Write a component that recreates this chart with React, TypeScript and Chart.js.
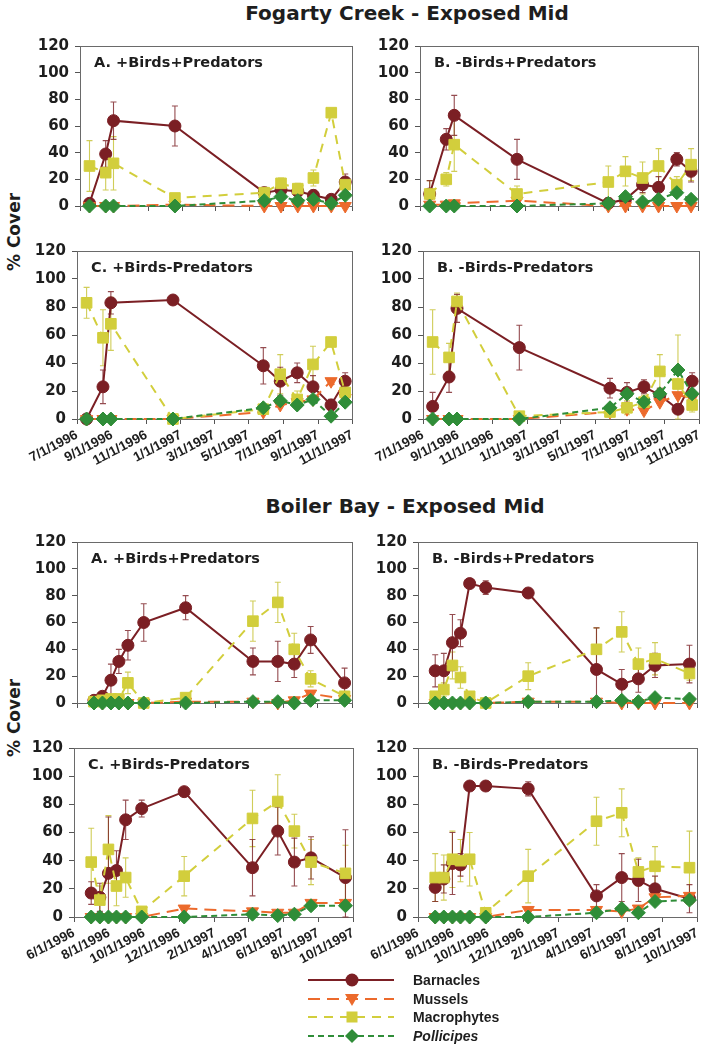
import React, { useEffect, useRef } from 'react';
import { Chart, registerables } from 'chart.js';
Chart.register(...registerables);

// ---------- tick labels & sampling dates ----------
const fogartyTickLabels = ['7/1/1996', '9/1/1996', '11/1/1996', '1/1/1997', '3/1/1997', '5/1/1997', '7/1/1997', '9/1/1997', '11/1/1997'];
const fogartyDates = ['7/18/1996', '8/16/1996', '8/30/1996', '12/18/1996', '5/27/1997', '6/26/1997', '7/26/1997', '8/23/1997', '9/24/1997', '10/19/1997'];
const boilerTickLabels = ['6/1/1996', '8/1/1996', '10/1/1996', '12/1/1996', '2/1/1997', '4/1/1997', '6/1/1997', '8/1/1997', '10/1/1997'];
const boilerDates = ['7/1/1996', '7/16/1996', '7/31/1996', '8/14/1996', '8/30/1996', '9/27/1996', '12/10/1996', '4/8/1997', '5/22/1997', '6/20/1997', '7/19/1997', '9/17/1997'];

// ---------- Fogarty Creek ----------
const fogA_barnacles = [2, 39, 64, 60, 10, 12, 11, 8, 5, 18];
const fogA_barnaclesErr = [2, 10, 14, 15, 4, 6, 5, 4, 3, 6];
const fogA_mussels = [0, 0, 0, 1, 0, 0, 0, 0, 0, 0];
const fogA_macrophytes = [30, 25, 32, 6, 10, 17, 13, 21, 70, 16];
const fogA_macrophytesErr = [19, 13, 20, 2, 3, 4, 4, 6, 2, 5];
const fogA_pollicipes = [0, 0, 0, 0, 4, 7, 4, 5, 2, 8];

const fogB_barnacles = [9, 50, 68, 35, 2, 5, 16, 14, 35, 26];
const fogB_barnaclesErr = [10, 8, 15, 15, 4, 4, 6, 8, 5, 8];
const fogB_mussels = [1, 1, 2, 4, 0, 0, 0, 0, 0, 0];
const fogB_macrophytes = [9, 20, 46, 9, 18, 26, 21, 30, 16, 31];
const fogB_macrophytesErr = [10, 5, 20, 6, 12, 11, 12, 13, 6, 12];
const fogB_pollicipes = [0, 0, 0, 0, 2, 7, 3, 5, 10, 5];

const fogC_barnacles = [0, 23, 83, 85, 38, 27, 33, 23, 10, 27];
const fogC_barnaclesErr = [0, 12, 8, 2, 13, 10, 7, 8, 4, 6];
const fogC_mussels = [0, 0, 0, 0, 5, 10, 12, 14, 27, 15];
const fogC_macrophytes = [83, 58, 68, 0, 7, 32, 14, 39, 55, 19];
const fogC_macrophytesErr = [11, 20, 19, 0, 3, 14, 6, 13, 3, 8];
const fogC_pollicipes = [0, 0, 0, 0, 8, 13, 10, 14, 2, 12];

const fogD_barnacles = [9, 30, 79, 51, 22, 19, 23, 17, 7, 27];
const fogD_barnaclesErr = [10, 11, 10, 16, 7, 7, 5, 5, 3, 6];
const fogD_mussels = [0, 0, 0, 0, 5, 7, 6, 12, 17, 15];
const fogD_macrophytes = [55, 44, 84, 2, 5, 8, 12, 34, 25, 10];
const fogD_macrophytesErr = [23, 10, 6, 1, 3, 5, 5, 12, 35, 5];
const fogD_pollicipes = [0, 0, 0, 0, 8, 18, 12, 18, 35, 18];

// ---------- Boiler Bay ----------
const boiA_barnacles = [2, 5, 17, 31, 43, 60, 71, 31, 31, 29, 47, 15];
const boiA_barnaclesErr = [2, 3, 12, 9, 11, 14, 9, 10, 15, 10, 10, 11];
const boiA_mussels = [0, 0, 0, 0, 0, 0, 1, 1, 0, 2, 7, 3];
const boiA_macrophytes = [1, 2, 3, 3, 15, 0, 4, 61, 75, 40, 18, 5];
const boiA_macrophytesErr = [1, 1, 1, 2, 8, 0, 2, 15, 15, 12, 6, 3];
const boiA_pollicipes = [0, 0, 0, 0, 0, 0, 0, 1, 1, 0, 2, 2];

const boiB_barnacles = [24, 24, 45, 52, 89, 86, 82, 25, 14, 18, 28, 29];
const boiB_barnaclesErr = [12, 13, 21, 10, 2, 5, 2, 31, 11, 10, 9, 14];
const boiB_mussels = [0, 0, 0, 0, 0, 0, 1, 1, 0, 0, 0, 0];
const boiB_macrophytes = [5, 10, 28, 19, 5, 0, 20, 40, 53, 29, 33, 22];
const boiB_macrophytesErr = [3, 5, 10, 8, 3, 0, 10, 16, 15, 12, 12, 5];
const boiB_pollicipes = [0, 0, 0, 0, 0, 0, 1, 1, 2, 1, 4, 3];

const boiC_barnacles = [17, 14, 31, 33, 69, 77, 89, 35, 61, 39, 42, 28];
const boiC_barnaclesErr = [8, 10, 40, 14, 14, 6, 0, 20, 17, 17, 15, 34];
const boiC_mussels = [0, 0, 0, 0, 0, 0, 6, 4, 3, 3, 10, 10];
const boiC_macrophytes = [39, 12, 48, 22, 28, 4, 29, 70, 82, 61, 39, 31];
const boiC_macrophytesErr = [24, 10, 24, 14, 14, 0, 14, 20, 19, 12, 16, 20];
const boiC_pollicipes = [0, 0, 0, 0, 0, 0, 0, 2, 1, 2, 8, 8];

const boiD_barnacles = [21, 27, 38, 37, 93, 93, 91, 15, 28, 26, 20, 13];
const boiD_barnaclesErr = [10, 10, 22, 8, 2, 2, 5, 8, 17, 15, 9, 10];
const boiD_mussels = [0, 0, 0, 0, 0, 0, 5, 5, 4, 6, 14, 15];
const boiD_macrophytes = [28, 28, 41, 40, 41, 3, 29, 68, 74, 32, 36, 35];
const boiD_macrophytesErr = [17, 16, 20, 15, 19, 0, 19, 17, 17, 10, 14, 26];
const boiD_pollicipes = [0, 0, 0, 0, 0, 0, 0, 3, 6, 3, 11, 12];

const yTickValues = [0, 20, 40, 60, 80, 100, 120];

// ---------- styles ----------
const C_BARN = '#7b1f24';
const C_MUS = '#ec6a2c';
const C_MAC = '#d2ce3c';
const C_POL = '#2f8d38';
const TEXT = '#1e1e1e';
const AXIS = '#555555';

function dayNum(s: string) {
  const [m, d, y] = s.split('/').map(Number);
  return Date.UTC(y, m - 1, d) / 86400000;
}

type Box = { l: number; t: number; r: number; b: number };
type PanelDef = {
  label: string; dates: string[]; ticks: string[]; showX: boolean; box: Box;
  barn: number[]; barnErr: number[]; mus: number[]; mac: number[]; macErr: number[]; pol: number[];
};

const panels: PanelDef[] = [
  { label: 'A. +Birds+Predators', dates: fogartyDates, ticks: fogartyTickLabels, showX: false, box: { l: 80, t: 43, r: 357, b: 213 },
    barn: fogA_barnacles, barnErr: fogA_barnaclesErr, mus: fogA_mussels, mac: fogA_macrophytes, macErr: fogA_macrophytesErr, pol: fogA_pollicipes },
  { label: 'B. -Birds+Predators', dates: fogartyDates, ticks: fogartyTickLabels, showX: false, box: { l: 420, t: 43, r: 703, b: 213 },
    barn: fogB_barnacles, barnErr: fogB_barnaclesErr, mus: fogB_mussels, mac: fogB_macrophytes, macErr: fogB_macrophytesErr, pol: fogB_pollicipes },
  { label: 'C. +Birds-Predators', dates: fogartyDates, ticks: fogartyTickLabels, showX: true, box: { l: 77, t: 248, r: 357, b: 419 },
    barn: fogC_barnacles, barnErr: fogC_barnaclesErr, mus: fogC_mussels, mac: fogC_macrophytes, macErr: fogC_macrophytesErr, pol: fogC_pollicipes },
  { label: 'B. -Birds-Predators', dates: fogartyDates, ticks: fogartyTickLabels, showX: true, box: { l: 423, t: 248, r: 704, b: 419 },
    barn: fogD_barnacles, barnErr: fogD_barnaclesErr, mus: fogD_mussels, mac: fogD_macrophytes, macErr: fogD_macrophytesErr, pol: fogD_pollicipes },
  { label: 'A. +Birds+Predators', dates: boilerDates, ticks: boilerTickLabels, showX: false, box: { l: 77, t: 539, r: 357, b: 710 },
    barn: boiA_barnacles, barnErr: boiA_barnaclesErr, mus: boiA_mussels, mac: boiA_macrophytes, macErr: boiA_macrophytesErr, pol: boiA_pollicipes },
  { label: 'B. -Birds+Predators', dates: boilerDates, ticks: boilerTickLabels, showX: false, box: { l: 418, t: 539, r: 702, b: 710 },
    barn: boiB_barnacles, barnErr: boiB_barnaclesErr, mus: boiB_mussels, mac: boiB_macrophytes, macErr: boiB_macrophytesErr, pol: boiB_pollicipes },
  { label: 'C. +Birds-Predators', dates: boilerDates, ticks: boilerTickLabels, showX: true, box: { l: 74, t: 745, r: 358, b: 917 },
    barn: boiC_barnacles, barnErr: boiC_barnaclesErr, mus: boiC_mussels, mac: boiC_macrophytes, macErr: boiC_macrophytesErr, pol: boiC_pollicipes },
  { label: 'B. -Birds-Predators', dates: boilerDates, ticks: boilerTickLabels, showX: true, box: { l: 418, t: 745, r: 702, b: 917 },
    barn: boiD_barnacles, barnErr: boiD_barnaclesErr, mus: boiD_mussels, mac: boiD_macrophytes, macErr: boiD_macrophytesErr, pol: boiD_pollicipes },
];

const Y_W = 62;
const PAD_T = 12;
const PAD_R = 4;

const panelPlugin = {
  id: 'panelDeco',
  beforeDatasetsDraw(chart: any, _args: any, opts: any) {
    const { ctx, chartArea, scales } = chart;
    const x = scales.x, y = scales.y;
    ctx.save();
    ctx.strokeStyle = '#6a6a6a';
    ctx.lineWidth = 1;
    ctx.strokeRect(Math.round(chartArea.left) + 0.5, Math.round(chartArea.top) + 0.5,
      Math.round(chartArea.right - chartArea.left) - 1, Math.round(chartArea.bottom - chartArea.top));
    ctx.fillStyle = TEXT;
    ctx.font = 'bold 14.5px "DejaVu Sans"';
    ctx.textBaseline = 'alphabetic';
    ctx.textAlign = 'left';
    ctx.fillText(opts.label || '', chartArea.left + 14, chartArea.top + 21);
    chart.data.datasets.forEach((ds: any) => {
      if (!ds.errors) return;
      ctx.strokeStyle = ds.errColor;
      ctx.lineWidth = 1.1;
      ds.data.forEach((pt: any, i: number) => {
        const e = ds.errors[i];
        if (!e) return;
        const px = x.getPixelForValue(pt.x);
        const top = y.getPixelForValue(Math.min(120, pt.y + e));
        const bot = y.getPixelForValue(Math.max(0, pt.y - e));
        ctx.beginPath();
        ctx.moveTo(px, top); ctx.lineTo(px, bot);
        ctx.moveTo(px - 3, top); ctx.lineTo(px + 3, top);
        ctx.moveTo(px - 3, bot); ctx.lineTo(px + 3, bot);
        ctx.stroke();
      });
    });
    ctx.restore();
  },
};

function Panel({ p }: { p: PanelDef }) {
  const ref = useRef<HTMLCanvasElement>(null);
  const xH = p.showX ? 64 : 8;
  const w = p.box.r - p.box.l + Y_W + PAD_R;
  const h = p.box.b - p.box.t + PAD_T + xH;
  useEffect(() => {
    if (!ref.current) return;
    const tickVals = p.ticks.map(dayNum);
    const xs = p.dates.map(dayNum);
    const mk = (label: string, vals: number[], errs: number[] | null, color: string, errColor: string,
      style: string, radius: number, dash: number[], rotation = 0) => ({
      label,
      data: vals.map((v, i) => ({ x: xs[i], y: v })),
      errors: errs,
      errColor,
      borderColor: color,
      backgroundColor: color,
      pointBackgroundColor: color,
      pointBorderColor: color,
      pointBorderWidth: 1,
      pointStyle: style,
      pointRadius: radius,
      pointRotation: rotation,
      borderWidth: 2,
      borderDash: dash,
      tension: 0,
      clip: false,
    });
    const chart = new Chart(ref.current, {
      type: 'line',
      data: {
        datasets: [
          mk('Pollicipes', p.pol, null, C_POL, C_POL, 'rectRot', 7, [6, 4]),
          mk('Macrophytes', p.mac, p.macErr, C_MAC, 'rgba(200,196,60,0.85)', 'rect', 7.5, [9, 7]),
          mk('Mussels', p.mus, null, C_MUS, C_MUS, 'triangle', 7, [12, 7], 180),
          mk('Barnacles', p.barn, p.barnErr, C_BARN, 'rgba(123,31,36,0.8)', 'circle', 6, []),
        ] as any,
      },
      options: {
        responsive: false,
        animation: false,
        events: [],
        layout: { padding: { top: PAD_T, right: PAD_R, left: 0, bottom: 0 } },
        plugins: {
          legend: { display: false },
          tooltip: { enabled: false },
          panelDeco: { label: p.label },
        } as any,
        scales: {
          x: {
            type: 'linear',
            min: tickVals[0],
            max: tickVals[tickVals.length - 1],
            afterBuildTicks: (s: any) => { s.ticks = tickVals.map((v) => ({ value: v })); },
            afterFit: (s: any) => { s.height = xH; s.paddingLeft = 0; s.paddingRight = 0; },
            grid: { display: true, drawOnChartArea: false, drawTicks: true, tickLength: 5, color: AXIS },
            border: { display: true, color: AXIS, width: 1 },
            ticks: {
              display: p.showX,
              autoSkip: false,
              minRotation: 28,
              maxRotation: 28,
              padding: 3,
              color: TEXT,
              font: { family: '"Liberation Sans", Arial, sans-serif', weight: 'bold', size: 13.5 },
              callback: (_v: any, i: number) => p.ticks[i],
            },
          },
          y: {
            min: 0,
            max: 120,
            afterBuildTicks: (s: any) => { s.ticks = yTickValues.map((v) => ({ value: v })); },
            afterFit: (s: any) => { s.width = Y_W; },
            grid: { display: true, drawOnChartArea: false, drawTicks: true, tickLength: 5, color: AXIS },
            border: { display: true, color: AXIS, width: 1 },
            ticks: {
              padding: 6,
              color: TEXT,
              font: { family: '"DejaVu Sans", sans-serif', weight: 'bold', size: 15 },
            },
          },
        },
      } as any,
      plugins: [panelPlugin],
    });
    return () => chart.destroy();
  }, []);
  return (
    <canvas
      ref={ref}
      width={w}
      height={h}
      style={{ position: 'absolute', left: p.box.l - Y_W, top: p.box.t - PAD_T, width: w, height: h }}
    />
  );
}

function LegendRow({ y, label, italic, kind }: { y: number; label: string; italic?: boolean; kind: string }) {
  let color = C_BARN, dash = '', marker: any = null;
  const cx = 44, cy = 9;
  if (kind === 'barn') { color = C_BARN; marker = <circle cx={cx} cy={cy} r={6.5} fill={C_BARN} />; }
  if (kind === 'mus') { color = C_MUS; dash = '12 7'; marker = <polygon points={`${cx - 7},${cy - 5} ${cx + 7},${cy - 5} ${cx},${cy + 7}`} fill={C_MUS} />; }
  if (kind === 'mac') { color = C_MAC; dash = '9 7'; marker = <rect x={cx - 5.5} y={cy - 5.5} width={11} height={11} fill={C_MAC} />; }
  if (kind === 'pol') { color = C_POL; dash = '6 4'; marker = <polygon points={`${cx},${cy - 7} ${cx + 7},${cy} ${cx},${cy + 7} ${cx - 7},${cy}`} fill={C_POL} />; }
  return (
    <div style={{ position: 'absolute', left: 308, top: y - 9, height: 18, width: 250 }}>
      <svg width={86} height={18} style={{ position: 'absolute', left: 0, top: 0 }}>
        <line x1={0} y1={cy} x2={86} y2={cy} stroke={color} strokeWidth={2} strokeDasharray={dash} />
        {marker}
      </svg>
      <div style={{
        position: 'absolute', left: 105, top: 0, lineHeight: '18px', fontSize: 14,
        fontFamily: '"Liberation Sans", Arial, sans-serif', fontWeight: 'bold', color: TEXT,
        fontStyle: italic ? 'italic' : 'normal', whiteSpace: 'nowrap',
      }}>{label}</div>
    </div>
  );
}

export default function App() {
  const titleStyle: any = {
    position: 'absolute', transform: 'translateX(-50%)', whiteSpace: 'nowrap',
    fontFamily: '"DejaVu Sans", sans-serif', fontWeight: 'bold', fontSize: 20, lineHeight: '20px', color: TEXT,
  };
  const yTitle: any = {
    position: 'absolute', transform: 'translate(-50%, -50%) rotate(-90deg)', whiteSpace: 'nowrap',
    fontFamily: '"DejaVu Sans", sans-serif', fontWeight: 'bold', fontSize: 17, lineHeight: '17px', color: TEXT,
  };
  return (
    <div style={{ position: 'absolute', left: 0, top: 0, width: 709, height: 1047, overflow: 'hidden', background: '#fff' }}>
      <div style={{ ...titleStyle, left: 407, top: 3 }}>Fogarty Creek - Exposed Mid</div>
      <div style={{ ...titleStyle, left: 405, top: 496 }}>Boiler Bay - Exposed Mid</div>
      <div style={{ ...yTitle, left: 14, top: 232 }}>% Cover</div>
      <div style={{ ...yTitle, left: 14, top: 718 }}>% Cover</div>
      {panels.map((p, i) => <Panel key={i} p={p} />)}
      <LegendRow y={980} label="Barnacles" kind="barn" />
      <LegendRow y={999} label="Mussels" kind="mus" />
      <LegendRow y={1017} label="Macrophytes" kind="mac" />
      <LegendRow y={1036} label="Pollicipes" italic kind="pol" />
    </div>
  );
}
